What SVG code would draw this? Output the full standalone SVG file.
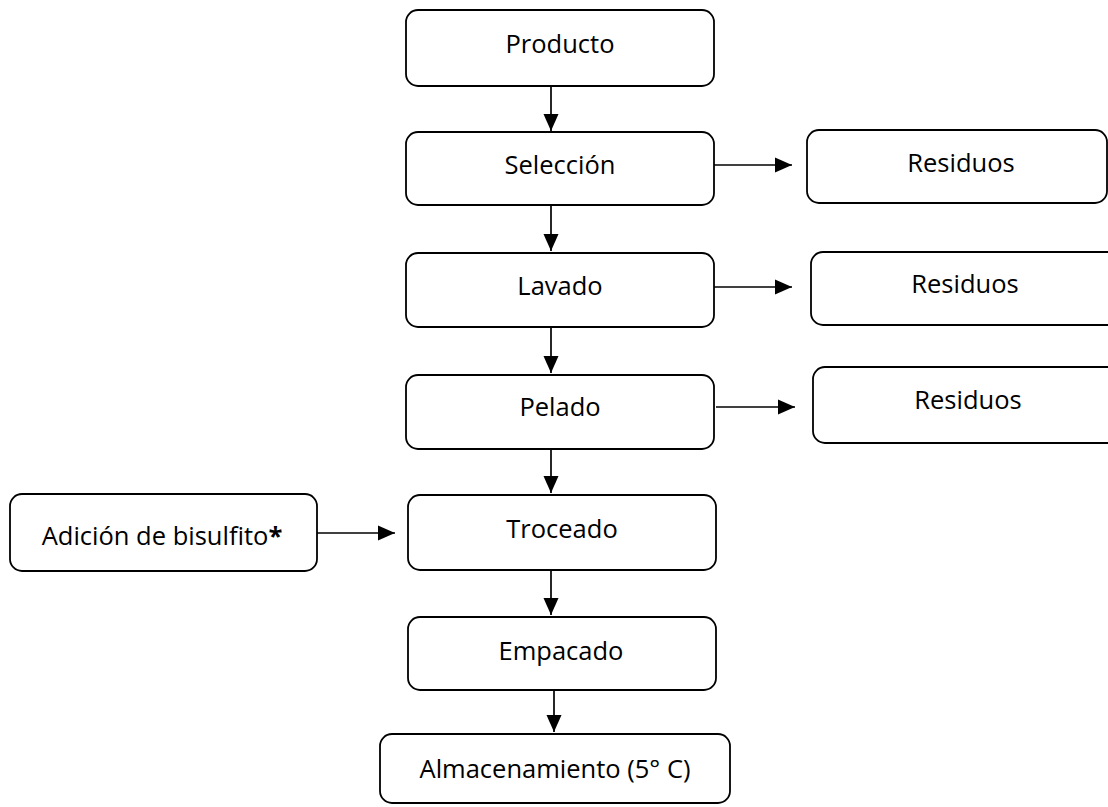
<svg xmlns="http://www.w3.org/2000/svg" width="1108" height="807" viewBox="0 0 1108 807">
<style>
.box{fill:#fff;stroke:#000;stroke-width:1.8}
.lbl{font-family:"Open Sans","Liberation Sans",sans-serif;font-size:25.5px;fill:#000;text-anchor:middle}
.con{stroke:#000;stroke-width:1.7;fill:none;marker-end:url(#ah)}
</style>
<defs>
<marker id="ah" markerUnits="userSpaceOnUse" markerWidth="17" markerHeight="16" viewBox="0 0 17 16" refX="17" refY="8" orient="auto">
<path d="M0,0.5 L17,8 L0,15.5 Z" fill="#000"/>
</marker>
</defs>
<rect width="1108" height="807" fill="#fff"/>
<g id="connectors">
<line class="con" x1="551" y1="86" x2="551" y2="131"/>
<line class="con" x1="551" y1="205" x2="551" y2="251"/>
<line class="con" x1="551" y1="327" x2="551" y2="373"/>
<line class="con" x1="551" y1="449" x2="551" y2="493"/>
<line class="con" x1="551" y1="570" x2="551" y2="615"/>
<line class="con" x1="554" y1="690" x2="554" y2="732"/>
<line class="con" x1="714" y1="165" x2="792" y2="165"/>
<line class="con" x1="714" y1="287" x2="792" y2="287"/>
<line class="con" x1="716" y1="407" x2="795" y2="407"/>
<line class="con" x1="317" y1="533" x2="395" y2="533"/>
</g>
<g id="producto"><rect class="box" x="406" y="10" width="308" height="76" rx="12"/><text class="lbl" x="560" y="53">Producto</text></g>
<g id="seleccion"><rect class="box" x="406" y="132" width="308" height="73" rx="12"/><text class="lbl" x="560" y="174">Selección</text></g>
<g id="lavado"><rect class="box" x="406" y="253" width="308" height="74" rx="12"/><text class="lbl" x="560" y="295">Lavado</text></g>
<g id="pelado"><rect class="box" x="406" y="375" width="308" height="74" rx="12"/><text class="lbl" x="560" y="416">Pelado</text></g>
<g id="troceado"><rect class="box" x="408" y="495" width="308" height="75" rx="12"/><text class="lbl" x="562" y="538">Troceado</text></g>
<g id="empacado"><rect class="box" x="408" y="617" width="308" height="73" rx="12"/><text class="lbl" x="561" y="660">Empacado</text></g>
<g id="almacenamiento"><rect class="box" x="380" y="734" width="350" height="69" rx="12"/><text class="lbl" x="555" y="778">Almacenamiento (5° C)</text></g>
<g id="adicion"><rect class="box" x="10" y="494" width="307" height="77" rx="12"/><text class="lbl" x="162" y="545">Adición de bisulfito<tspan font-weight="bold">*</tspan></text></g>
<g id="residuos1"><rect class="box" x="807" y="130" width="300" height="73" rx="12"/><text class="lbl" x="961" y="172">Residuos</text></g>
<g id="residuos2"><rect class="box" x="811" y="252" width="310" height="73" rx="12"/><text class="lbl" x="965" y="293">Residuos</text></g>
<g id="residuos3"><rect class="box" x="813" y="367" width="310" height="76" rx="12"/><text class="lbl" x="968" y="409">Residuos</text></g>
</svg>
